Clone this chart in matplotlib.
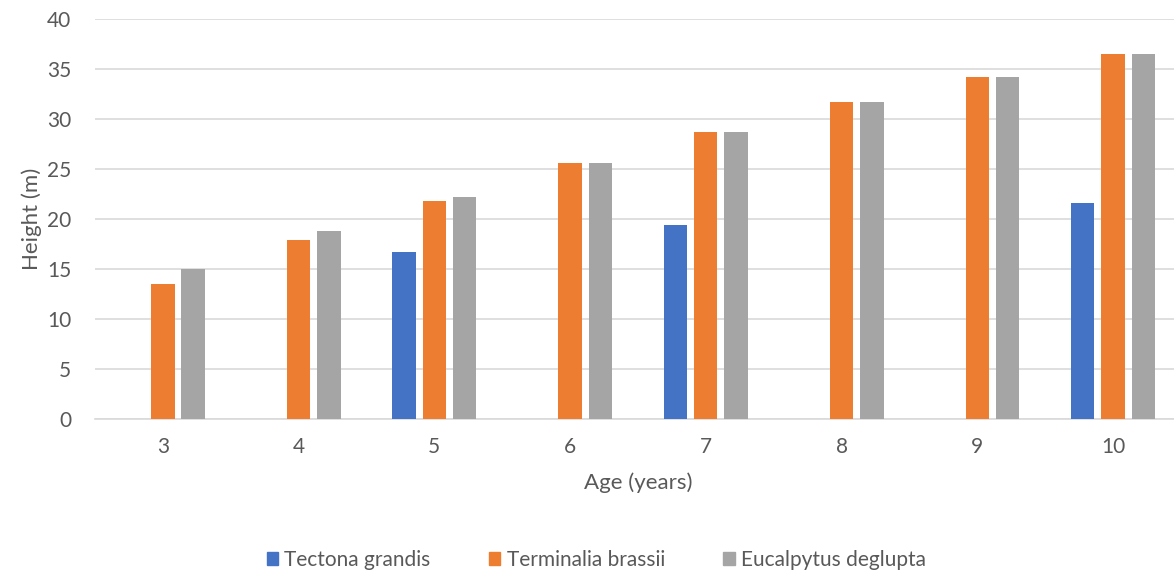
import numpy as np
import matplotlib
matplotlib.use('Agg')
import matplotlib.pyplot as plt
from matplotlib.patches import Patch

# data
ages = [3, 4, 5, 6, 7, 8, 9, 10]
tectona = [np.nan, np.nan, 16.7, np.nan, 19.4, np.nan, np.nan, 21.6]
terminalia = [13.5, 17.9, 21.8, 25.6, 28.7, 31.7, 34.2, 36.5]
eucalyptus = [15.0, 18.8, 22.2, 25.6, 28.7, 31.7, 34.2, 36.5]
series_names = ['Tectona grandis', 'Terminalia brassii', 'Eucalpytus deglupta']
colors = ['#4472C4', '#ED7D31', '#A5A5A5']

plt.rcParams['font.family'] = ['Lato', 'DejaVu Sans']
txt = '#595959'

fig = plt.figure(figsize=(11.74, 5.75), dpi=100)
ax = fig.add_axes([0.0809, 0.2713, 0.925, 0.6957])

x = np.arange(len(ages))
w = 0.172
step = 0.223
for i, (vals, c) in enumerate(zip([tectona, terminalia, eucalyptus], colors)):
    ax.bar(x + (i - 1) * step, vals, width=w, color=c, zorder=3)

ax.set_xlim(-0.5, len(ages) - 0.5)
ax.set_ylim(0, 40)
ax.set_yticks(range(0, 41, 5))
ax.set_xticks(x)
ax.set_xticklabels([str(a) for a in ages])
ax.grid(axis='y', color='#d9d9d9', linewidth=1.2, zorder=0)
for s in ['top', 'right', 'left']:
    ax.spines[s].set_visible(False)
ax.spines['bottom'].set_color('#d9d9d9')
ax.spines['bottom'].set_linewidth(1.2)
ax.tick_params(axis='both', length=0, colors=txt, labelsize=15)
ax.tick_params(axis='x', pad=13)
ax.tick_params(axis='y', pad=17)

ax.set_xlabel('Age (years)', fontsize=16, color=txt, labelpad=11)
ax.set_ylabel('Height (m)', fontsize=16, color=txt, labelpad=4)

handles = [Patch(color=c, label=n) for c, n in zip(colors, series_names)]
fig.legend(handles=handles, loc='center', bbox_to_anchor=(0.508, 0.026),
           ncol=3, frameon=False, fontsize=15, labelcolor=txt,
           handlelength=0.55, handleheight=0.55, handletextpad=0.3, columnspacing=2.8)

fig.savefig('out.png', dpi=100)
